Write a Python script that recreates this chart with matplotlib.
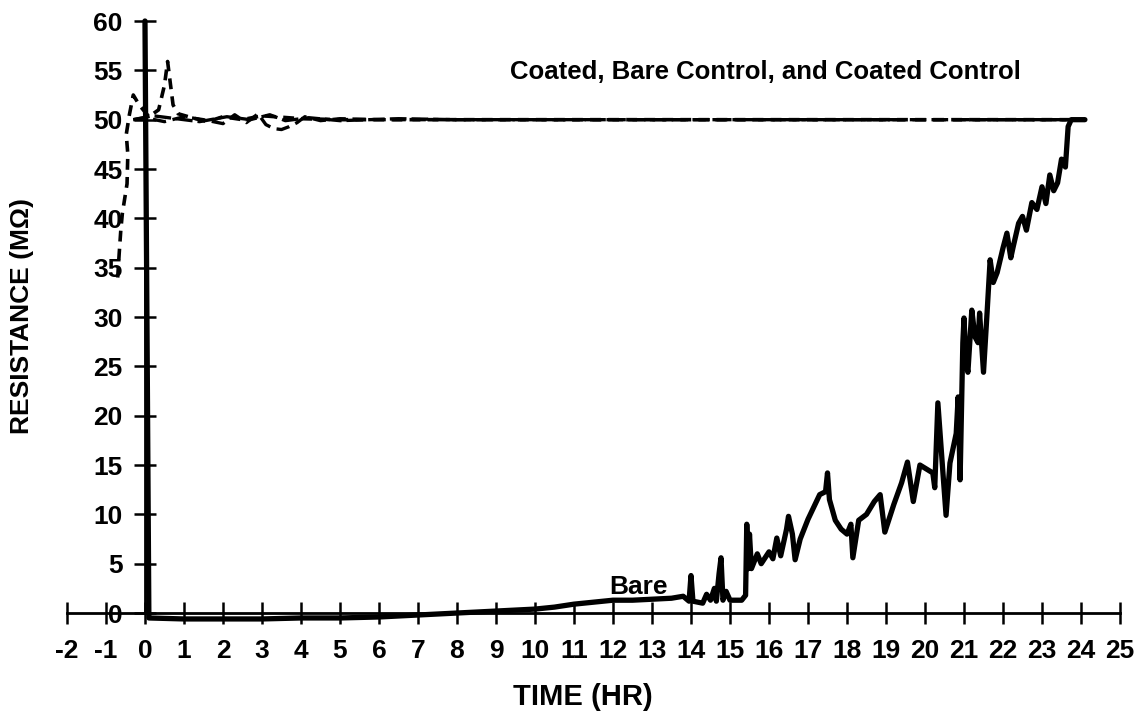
import matplotlib
matplotlib.use("Agg")
import matplotlib.pyplot as plt

plt.rcParams['font.family'] = ['Liberation Sans', 'DejaVu Sans']
plt.rcParams['font.weight'] = 'bold'

# Bare sample: resistance (MOhm) vs time (hr)
bare_t = [0.0, 0.05, 0.1, 1.0, 2.0, 3.0, 4.0, 5.0, 6.0, 7.0, 8.0, 9.0, 10.0, 10.5,
          11.0, 11.5, 12.0, 12.5, 13.0, 13.5, 13.8, 13.95, 14.0, 14.05, 14.3, 14.4,
          14.5, 14.6, 14.65, 14.72, 14.77, 14.82, 14.9, 15.0, 15.3, 15.4, 15.43,
          15.47, 15.5, 15.55, 15.7, 15.8, 16.0, 16.1, 16.2, 16.3, 16.45, 16.5, 16.6,
          16.67, 16.8, 17.0, 17.3, 17.45, 17.5, 17.55, 17.7, 17.85, 18.0, 18.1,
          18.15, 18.3, 18.5, 18.7, 18.85, 18.97, 19.2, 19.4, 19.55, 19.7, 19.87,
          20.2, 20.25, 20.33, 20.46, 20.54, 20.64, 20.8, 20.85, 20.9, 20.97, 21.0,
          21.05, 21.1, 21.2, 21.28, 21.36, 21.4, 21.5, 21.6, 21.67, 21.75, 21.85,
          22.0, 22.1, 22.2, 22.26, 22.4, 22.5, 22.6, 22.74, 22.87, 23.0, 23.1, 23.2,
          23.3, 23.4, 23.5, 23.6, 23.67, 23.75, 24.1]
bare_r = [60.0, 30.0, -0.5, -0.6, -0.6, -0.6, -0.5, -0.5, -0.4, -0.2, 0.0, 0.2, 0.4, 0.6,
          0.9, 1.1, 1.3, 1.3, 1.4, 1.5, 1.7, 1.2, 3.8, 1.2, 1.0, 1.9,
          1.3, 2.5, 1.2, 4.0, 5.6, 1.3, 2.2, 1.3, 1.3, 1.8, 9.0,
          4.5, 8.0, 4.5, 6.0, 5.0, 6.2, 5.5, 7.6, 5.8, 8.5, 9.8, 8.0,
          5.4, 7.5, 9.5, 12.0, 12.3, 14.2, 11.5, 9.4, 8.5, 8.0, 9.0,
          5.6, 9.4, 10.0, 11.3, 12.0, 8.2, 11.0, 13.2, 15.3, 11.3, 15.0,
          14.2, 12.7, 21.3, 14.2, 9.9, 15.2, 18.2, 21.9, 13.5, 27.4, 29.9,
          25.5, 24.4, 30.7, 28.0, 27.4, 30.4, 24.4, 31.0, 35.8, 33.5, 34.5,
          37.0, 38.5, 36.0, 37.1, 39.5, 40.2, 38.8, 41.6, 40.9, 43.2, 41.5, 44.4,
          42.8, 43.6, 46.0, 45.2, 49.3, 50.0, 50.0]

# Coated sample
coated_t = [-0.70, -0.66, -0.62, -0.58, -0.52, -0.46, -0.44, -0.48, -0.40, -0.30,
            -0.15, 0.1, 0.35, 0.5, 0.58, 0.64, 0.72, 0.85, 1.2, 1.6, 2.0, 2.5,
            3.0, 4.0, 5.0, 24.1]
coated_r = [34.0, 36.5, 38.8, 40.5, 42.0, 43.5, 46.5, 48.5, 50.5, 52.5,
            51.5, 50.3, 51.0, 53.5, 55.9, 54.0, 51.5, 50.6, 50.2, 49.8, 50.3, 50.0,
            50.4, 50.1, 50.0, 50.0]

# Coated control
coated_ctrl_t = [-0.3, 0.0, 0.5, 1.0, 1.5, 2.0, 2.3, 2.6, 2.9, 3.1, 3.3, 3.5, 3.7,
                 3.9, 4.1, 4.5, 5.0, 6.0, 24.1]
coated_ctrl_r = [50.0, 50.2, 49.8, 50.3, 50.0, 49.6, 50.5, 49.7, 50.6, 49.5, 49.1,
                 49.0, 49.3, 49.7, 50.3, 49.9, 50.1, 50.0, 50.0]

# Bare control
bare_ctrl_t = [-0.3, 0.2, 0.8, 1.4, 2.1, 2.7, 3.2, 3.6, 4.2, 5.0, 6.5, 8.0, 24.1]
bare_ctrl_r = [50.0, 50.4, 50.1, 49.8, 50.3, 50.0, 50.5, 49.9, 50.2, 49.9, 50.1, 50.0, 50.0]

x_ticks = list(range(-2, 26))
y_ticks = list(range(0, 61, 5))

fig = plt.figure(figsize=(11.41, 7.12), dpi=100)
ax = fig.add_axes([0.0587, 0.139, 0.9229, 0.8315])

ax.plot(bare_ctrl_t, bare_ctrl_r, color='black', lw=2.4, dashes=(5, 1.5), clip_on=False)
ax.plot(coated_ctrl_t, coated_ctrl_r, color='black', lw=2.4, dashes=(4, 2), clip_on=False)
ax.plot(coated_t, coated_r, color='black', lw=2.6, dashes=(3, 2), clip_on=False)
ax.plot(bare_t, bare_r, color='black', lw=3.8, solid_joinstyle='round',
        solid_capstyle='round', clip_on=False)

ax.text(9.36, 54.8, 'Coated, Bare Control, and Coated Control', fontsize=18.5,
        fontweight='bold', ha='left', va='center')
ax.text(11.9, 2.6, 'Bare', fontsize=19, fontweight='bold', ha='left', va='center')

ax.set_xlim(-2, 25)
ax.set_ylim(0, 60)
ax.spines['top'].set_visible(False)
ax.spines['right'].set_visible(False)
ax.spines['left'].set_position(('data', 0))
ax.spines['left'].set_linewidth(2)
ax.spines['bottom'].set_linewidth(2)

ax.set_xticks(x_ticks)
ax.set_xticklabels([str(v) for v in x_ticks])
ax.set_yticks(y_ticks)
ax.set_yticklabels([str(v) for v in y_ticks])
ax.tick_params(axis='x', direction='inout', length=16, width=1.8, pad=10.5, labelsize=19)
ax.tick_params(axis='y', direction='inout', length=16, width=1.8, pad=8.0, labelsize=19)
for lab in ax.get_xticklabels() + ax.get_yticklabels():
    lab.set_fontweight('bold')

fig.text(583 / 1141, 1 - 697 / 712, 'TIME (HR)', fontsize=21, fontweight='bold',
         ha='center', va='center')
fig.text(22 / 1141, 1 - 316 / 712, 'RESISTANCE (M\u03a9)', fontsize=19, fontweight='bold',
         ha='center', va='center', rotation=90)

fig.savefig('out.png', dpi=100)
